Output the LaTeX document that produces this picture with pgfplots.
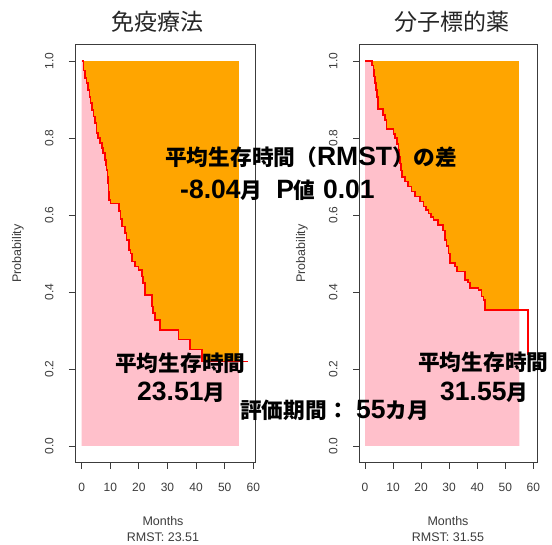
\documentclass[border=0pt]{standalone}
\usepackage{pgfplots}
\usepackage{pgfplotstable}
\pgfplotsset{compat=1.18}
\usepackage{fontspec}
\setmainfont{Liberation Sans}
\newfontfamily\jp{Noto Sans CJK JP}
\newfontfamily\lat{Liberation Sans}
\definecolor{rorange}{RGB}{255,165,0}
\definecolor{rpink}{RGB}{255,192,203}
\definecolor{axgray}{RGB}{60,60,60}
\newcommand\J[1]{{\jp\bfseries\fontsize{21.7}{24}\selectfont #1}}
\newcommand\LT[1]{{\lat\bfseries\fontsize{26.5}{30}\selectfont #1}}

\pgfplotstableread{
t s
0 1.0
0.6 0.975
1.2 0.955
1.7 0.942
2.2 0.925
2.7 0.907
3.1 0.89
3.5 0.873
4.1 0.856
4.6 0.839
5.2 0.813
5.8 0.80
6.4 0.787
7.0 0.774
7.5 0.761
8.1 0.743
8.5 0.73
8.7 0.717
9.0 0.70
9.2 0.683
9.4 0.66
9.6 0.639
10.1 0.630
13.1 0.61
13.6 0.59
14.0 0.57
15.1 0.553
15.7 0.535
16.6 0.509
17.0 0.50
17.5 0.479
18.6 0.466
19.8 0.457
21.0 0.44
21.5 0.423
22.1 0.392
24.5 0.362
25.0 0.345
25.6 0.327
27.4 0.301
33.8 0.277
37.9 0.251
42.0 0.219
58.2 0.219
}\kmA

\pgfplotstableread{
t s
0 1.0
2.4 0.988
3.0 0.977
3.3 0.96
3.6 0.942
3.9 0.925
4.2 0.907
4.7 0.875
6.5 0.860
7.1 0.847
7.7 0.823
10.1 0.81
10.7 0.80
11.3 0.785
11.9 0.769
12.2 0.75
12.5 0.734
12.8 0.715
13.1 0.699
14.3 0.687
15.4 0.674
16.6 0.661
17.8 0.648
19.6 0.635
20.8 0.622
21.7 0.613
22.6 0.604
23.5 0.595
24.4 0.587
26.1 0.574
27.9 0.56
28.5 0.535
29.1 0.52
29.7 0.50
30.3 0.475
32.1 0.466
32.7 0.453
35.6 0.431
36.8 0.425
37.4 0.410
40.4 0.405
41.6 0.388
42.2 0.379
42.8 0.353
58.2 0.353
58.2 0.236
}\kmB

\pgfplotsset{rstyle/.style={
  scale only axis, height=418.7pt,
  ymin=-0.0434, ymax=1.044,
  axis background/.style={fill=white},
  axis line style={axgray, line width=0.8pt},
  tick style={axgray, line width=0.8pt},
  tick align=outside, major tick length=6pt,
  xtick pos=bottom, ytick pos=left,
  xtick={0,10,20,30,40,50,60}, xticklabels={0,10,20,30,40,50,60},
  ytick={0,0.2,0.4,0.6,0.8,1}, yticklabels={0.0,0.2,0.4,0.6,0.8,1.0},
  ticklabel style={font=\fontsize{12}{14}\selectfont, text=axgray},
  yticklabel style={rotate=90, anchor=south},
  xticklabel style={anchor=north},
  xticklabel shift=11pt, yticklabel shift=12pt,
}}

\begin{document}
\begin{tikzpicture}[x=1pt,y=1pt]
\path[use as bounding box, fill=white] (0,0) rectangle (552,544);

\begin{axis}[rstyle, width=180pt, xmin=-2.34, xmax=60.6, at={(75pt,81.3pt)}, anchor=south west]
\addplot[draw=none, fill=rorange] coordinates {(0,0) (55,0) (55,1) (0,1)} -- cycle;
\addplot[draw=none, fill=rpink, const plot] coordinates {
(0,0) (0,1.0) (0.6,0.975) (1.2,0.955) (1.7,0.942) (2.2,0.925) (2.7,0.907) (3.1,0.89) (3.5,0.873)
(4.1,0.856) (4.6,0.839) (5.2,0.813) (5.8,0.80) (6.4,0.787) (7.0,0.774) (7.5,0.761) (8.1,0.743)
(8.5,0.73) (8.7,0.717) (9.0,0.70) (9.2,0.683) (9.4,0.66) (9.6,0.639) (10.1,0.630) (13.1,0.61)
(13.6,0.59) (14.0,0.57) (15.1,0.553) (15.7,0.535) (16.6,0.509) (17.0,0.50) (17.5,0.479)
(18.6,0.466) (19.8,0.457) (21.0,0.44) (21.5,0.423) (22.1,0.392) (24.5,0.362) (25.0,0.345)
(25.6,0.327) (27.4,0.301) (33.8,0.277) (37.9,0.251) (42.0,0.219) (55,0.219) (55,0)} -- cycle;
\addplot[red, line width=1.6pt, const plot] table[x=t, y=s] {\kmA};
\end{axis}

\begin{axis}[rstyle, width=178.7pt, xmin=-2.14, xmax=61.57, at={(359pt,81.3pt)}, anchor=south west]
\addplot[draw=none, fill=rorange] coordinates {(0,0) (55,0) (55,1) (0,1)} -- cycle;
\addplot[draw=none, fill=rpink, const plot] coordinates {
(0,0) (0,1.0) (2.4,0.988) (3.0,0.977) (3.3,0.96) (3.6,0.942) (3.9,0.925) (4.2,0.907) (4.7,0.875)
(6.5,0.860) (7.1,0.847) (7.7,0.823) (10.1,0.81) (10.7,0.80) (11.3,0.785) (11.9,0.769) (12.2,0.75)
(12.5,0.734) (12.8,0.715) (13.1,0.699) (14.3,0.687) (15.4,0.674) (16.6,0.661) (17.8,0.648)
(19.6,0.635) (20.8,0.622) (21.7,0.613) (22.6,0.604) (23.5,0.595) (24.4,0.587) (26.1,0.574)
(27.9,0.56) (28.5,0.535) (29.1,0.52) (29.7,0.50) (30.3,0.475) (32.1,0.466) (32.7,0.453)
(35.6,0.431) (36.8,0.425) (37.4,0.410) (40.4,0.405) (41.6,0.388) (42.2,0.379) (42.8,0.353)
(55,0.353) (55,0)} -- cycle;
\addplot[red, line width=1.6pt, const plot] table[x=t, y=s] {\kmB};
\end{axis}

% titles
\node[text=black!85] at (157,522) {\jp\fontsize{23}{26}\selectfont 免疫療法};
\node[text=black!85] at (452,522) {\jp\fontsize{23}{26}\selectfont 分子標的薬};
% axis labels
\node[rotate=90, text=axgray, font=\fontsize{12.5}{14}\selectfont] at (18,290.5) {Probability};
\node[rotate=90, text=axgray, font=\fontsize{12.5}{14}\selectfont] at (302,290.5) {Probability};
\node[text=axgray, font=\fontsize{12.5}{14}\selectfont] at (163,23) {Months};
\node[text=axgray, font=\fontsize{12.5}{14}\selectfont] at (163,7) {RMST: 23.51};
\node[text=axgray, font=\fontsize{12.5}{14}\selectfont] at (448,23) {Months};
\node[text=axgray, font=\fontsize{12.5}{14}\selectfont] at (448,7) {RMST: 31.55};

% overlay texts
\node[anchor=west, inner sep=0pt] at (165,387) {\J{平均生存時間（}\LT{RMST}\J{）の差}};
\node[anchor=west, inner sep=0pt] at (180,354) {\LT{-8.04}\J{月}\hspace{14pt}\LT{P}\J{値}\LT{ 0.01}};
\node[anchor=west, inner sep=0pt] at (115,181) {\J{平均生存時間}};
\node[anchor=west, inner sep=0pt] at (137,152) {\LT{23.51}\J{月}};
\node[anchor=west, inner sep=0pt] at (418,182) {\J{平均生存時間}};
\node[anchor=west, inner sep=0pt] at (440,152) {\LT{31.55}\J{月}};
\node[anchor=west, inner sep=0pt] at (240,134) {\J{評価期間：}\LT{ 55}\J{カ月}};
\end{tikzpicture}
\end{document}
